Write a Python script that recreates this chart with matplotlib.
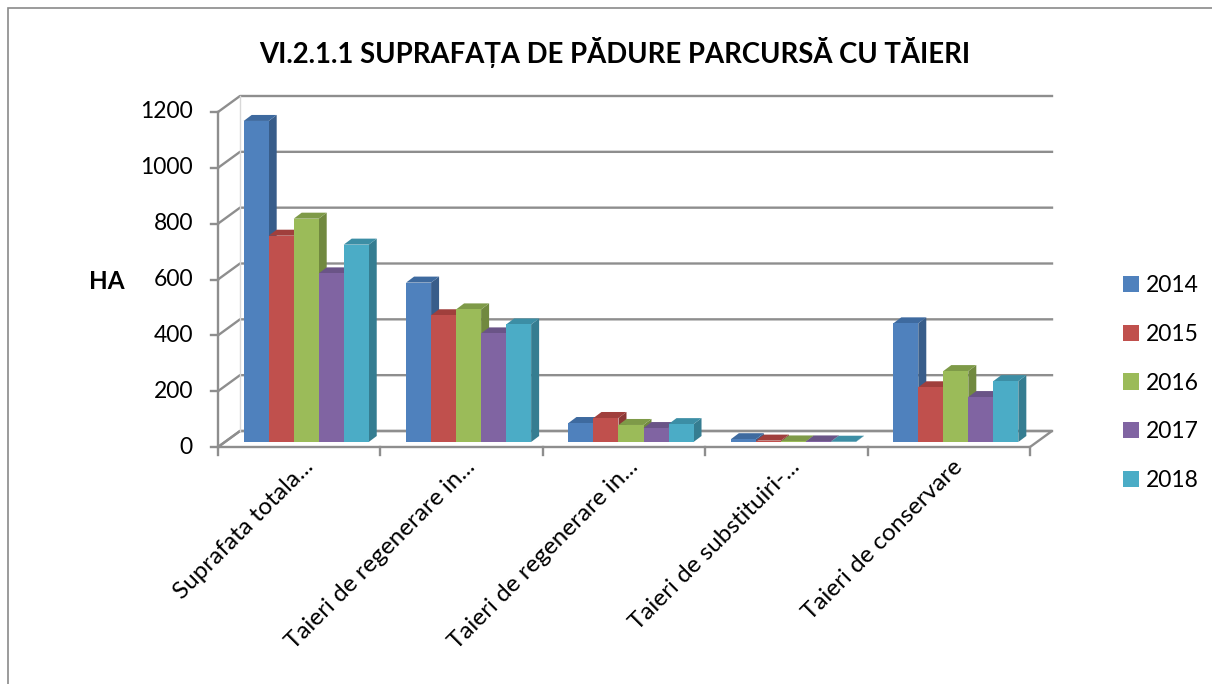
import numpy as np
import matplotlib.pyplot as plt
from matplotlib.patches import Polygon, Rectangle
from matplotlib.lines import Line2D

# valori (ha)
categories = ["Suprafata totala...", "Taieri de regenerare in...",
              "Taieri de regenerare in...", "Taieri de substituiri-...",
              "Taieri de conservare"]
years = ["2014", "2015", "2016", "2017", "2018"]
v2014 = [1150, 571, 68, 10, 425]
v2015 = [739, 454, 86, 5, 196]
v2016 = [800, 475, 61, 2, 254]
v2017 = [604, 389, 50, 2, 161]
v2018 = [707, 421, 64, 1, 218]
y_ticks = [0, 200, 400, 600, 800, 1000, 1200]

series = [v2014, v2015, v2016, v2017, v2018]
c_front = ["#4F81BD", "#C0504D", "#9BBB59", "#8064A2", "#4BACC6"]
c_side = ["#385D8A", "#8C3836", "#71893F", "#5C4776", "#357D91"]
c_top = ["#3E6A9F", "#A03F3C", "#7E9A48", "#6A5487", "#3C8EA5"]
grid_col = "#8E8E8E"

plt.rcParams['font.family'] = ['Lato', 'DejaVu Sans']

W, H = 1212, 684
fig = plt.figure(figsize=(W / 100, H / 100), dpi=100)

# front axis: x 218..1030 px, y 447 (0) .. 112 (1200) px
ax = fig.add_axes([218 / W, 1 - 447 / H, 812 / W, 335 / H])
n = len(categories)
ax.set_xlim(-0.5, n - 0.5)
ax.set_ylim(0, 1200)
ax.axis('off')

px_x = 812 / n
px_y = 335 / 1200


def dpx(dx, dy):
    # pixel offset -> data offset
    return dx / px_x, dy / px_y


# depth of the 3d box
Dx, Dy = dpx(22, 16)
x0, x1 = -0.5, n - 0.5

# floor
floor = Polygon([(x0, 0), (x1, 0), (x1 + Dx, Dy), (x0 + Dx, Dy)], closed=True,
                facecolor="white", edgecolor=grid_col, lw=1.7, clip_on=False, zorder=1)
ax.add_patch(floor)

# walls gridlines
for v in y_ticks:
    ax.add_line(Line2D([x0, x0 + Dx, x1 + Dx], [v, v + Dy, v + Dy], color=grid_col,
                       lw=1.7, clip_on=False, zorder=1))
ax.add_line(Line2D([x0 + Dx, x0 + Dx], [Dy, 1200 + Dy], color="#D8D8D8",
                   lw=1.0, clip_on=False, zorder=1))

# front y axis and ticks
ax.add_line(Line2D([x0, x0], [0, 1200], color=grid_col, lw=1.7, clip_on=False, zorder=2))
tx, _ = dpx(7, 0)
for v in y_ticks:
    ax.add_line(Line2D([x0 - tx, x0], [v, v], color=grid_col, lw=1.7, clip_on=False))
    ax.text(x0 - dpx(25, 0)[0], v, str(v), ha='right', va='center', fontsize=16.5)

# x ticks
_, ty = dpx(0, 8)
for k in range(n + 1):
    xb = x0 + k
    ax.add_line(Line2D([xb, xb], [0, -ty], color=grid_col, lw=1.7, clip_on=False))

# bars
fx, fy = dpx(7, 5)        # front plane of bars
bx, by = dpx(8, 6)        # bar depth
bw = 0.154
m = len(series)
for i in range(n):
    for j in range(m):
        val = series[j][i]
        left = i - bw * m / 2 + j * bw + fx
        right = left + bw
        base = fy
        topv = fy + val
        z = 3 + (i * m + j) * 0.01
        side = Polygon([(right, base), (right + bx, base + by), (right + bx, topv + by),
                        (right, topv)], closed=True, facecolor=c_side[j], edgecolor='none',
                       clip_on=False, zorder=z)
        topf = Polygon([(left, topv), (right, topv), (right + bx, topv + by),
                        (left + bx, topv + by)], closed=True, facecolor=c_top[j],
                       edgecolor='none', clip_on=False, zorder=z)
        ax.add_patch(side)
        ax.add_patch(topf)
        ax.bar(left, val, width=bw, bottom=base, align='edge', color=c_front[j],
               edgecolor='none', clip_on=False, zorder=z)

# category labels
lx, ly = dpx(15, -21)
for i, lab in enumerate(categories):
    ax.text(i + lx, ly, lab, rotation=45, rotation_mode='anchor', ha='right',
            va='baseline', fontsize=17.5)

# legend
handles = [Rectangle((0, 0), 1, 1, facecolor=c) for c in c_front]
fig.legend(handles, years, loc='center left', bbox_to_anchor=(1114 / W, 1 - 383 / H),
           frameon=False, fontsize=16.5, handlelength=0.7, handleheight=0.7,
           handletextpad=0.3, labelspacing=1.22, borderaxespad=0)

# title and axis name
fig.text(615 / W, 1 - 52 / H, "VI.2.1.1 SUPRAFAȚA DE PĂDURE PARCURSĂ CU TĂIERI",
         ha='center', va='center', fontsize=19.8, fontweight='bold')
fig.text(107 / W, 1 - 282 / H, "HA", ha='center', va='center', fontsize=17.5, fontweight='bold')

# outer border
fig.add_artist(Rectangle((8 / W, -0.05), 1.0, 1 - 8 / H + 0.05, transform=fig.transFigure,
                         facecolor='none', edgecolor='#8A8A8A', lw=1.2))

fig.savefig("out.png", dpi=100)
